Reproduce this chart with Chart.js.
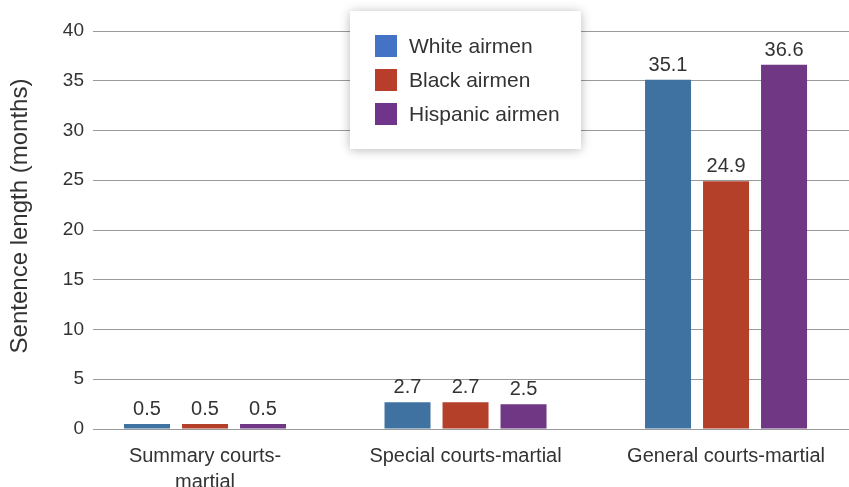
<!DOCTYPE html>
<html>
<head>
<meta charset="utf-8">
<script src="https://cdn.jsdelivr.net/npm/chart.js@4"></script>
<style>
  html, body { margin: 0; padding: 0; background: #fff; overflow: hidden; }
  #wrap { width: 849px; height: 487px; }
</style>
</head>
<body>
<div id="wrap"><canvas id="sentences"></canvas></div>
<script>
// data
const categories = [['Summary courts-', 'martial'], 'Special courts-martial', 'General courts-martial'];
const seriesNames = ['White airmen', 'Black airmen', 'Hispanic airmen'];
const whiteValues = [0.5, 2.7, 35.1];
const blackValues = [0.5, 2.7, 24.9];
const hispanicValues = [0.5, 2.5, 36.6];
const yMax = 40;
const yStep = 5;
const yTitle = 'Sentence length (months)';

const barColors = ['#3F72A1', '#B5402A', '#6F3784'];
const legendColors = ['#4472C4', '#B83D2A', '#70358A'];
const fontFamily = '"Liberation Sans", Arial, Helvetica, sans-serif';
const textColor = '#333333';

function toPoints(values) {
    return values.map(function(v, i) { return { x: i, y: v }; });
}

// value labels above each bar
const valueLabels = {
    id: 'valueLabels',
    afterDatasetsDraw: function(chart) {
        const ctx = chart.ctx;
        ctx.save();
        ctx.font = '20px ' + fontFamily;
        ctx.fillStyle = textColor;
        ctx.textAlign = 'center';
        ctx.textBaseline = 'alphabetic';
        chart.data.datasets.forEach(function(ds, di) {
            chart.getDatasetMeta(di).data.forEach(function(bar, i) {
                ctx.fillText(ds.data[i].y.toFixed(1), bar.x, bar.y - 9);
            });
        });
        ctx.restore();
    }
};

// y axis title, sits a bit above the middle of the plot like the original
const sideTitle = {
    id: 'sideTitle',
    afterDraw: function(chart) {
        const ctx = chart.ctx;
        ctx.save();
        ctx.translate(20, 216);
        ctx.rotate(-Math.PI / 2);
        ctx.font = '24px ' + fontFamily;
        ctx.fillStyle = textColor;
        ctx.textAlign = 'center';
        ctx.textBaseline = 'middle';
        ctx.fillText(yTitle, 0, 0);
        ctx.restore();
    }
};

// floating legend box with a soft shadow
const boxLegend = {
    id: 'boxLegend',
    afterDraw: function(chart) {
        const ctx = chart.ctx;
        const x = 350, y = 11, w = 231, h = 138;
        ctx.save();
        ctx.shadowColor = 'rgba(0,0,0,0.28)';
        ctx.shadowBlur = 10;
        ctx.shadowOffsetY = 1;
        ctx.fillStyle = '#fff';
        ctx.fillRect(x, y, w, h);
        ctx.restore();

        ctx.save();
        ctx.font = '21px ' + fontFamily;
        ctx.textBaseline = 'middle';
        chart.data.datasets.forEach(function(ds, i) {
            const cy = 46 + i * 34;
            ctx.fillStyle = legendColors[i];
            ctx.fillRect(375, cy - 11, 22, 22);
            ctx.fillStyle = textColor;
            ctx.fillText(ds.label, 409, cy + 1);
        });
        ctx.restore();
    }
};

const ctx = document.getElementById('sentences').getContext('2d');

const chart = new Chart(ctx, {
    type: 'bar',
    data: {
        datasets: [
            { label: seriesNames[0], data: toPoints(whiteValues), backgroundColor: barColors[0] },
            { label: seriesNames[1], data: toPoints(blackValues), backgroundColor: barColors[1] },
            { label: seriesNames[2], data: toPoints(hispanicValues), backgroundColor: barColors[2] }
        ]
    },
    options: {
        responsive: true,
        maintainAspectRatio: false,
        animation: false,
        categoryPercentage: 0.668,
        barPercentage: 0.793,
        layout: { padding: { top: 31, right: 0, bottom: 0, left: 0 } },
        plugins: {
            legend: { display: false },
            tooltip: { enabled: false }
        },
        scales: {
            x: {
                type: 'linear',
                offset: false,
                min: -0.43,
                max: 2.472,
                grid: { display: false, offset: false },
                border: { display: false },
                afterBuildTicks: function(scale) {
                    scale.ticks = categories.map(function(c, i) { return { value: i }; });
                },
                afterFit: function(scale) { scale.height = 58; },
                ticks: {
                    autoSkip: false,
                    maxRotation: 0,
                    padding: 6,
                    color: textColor,
                    font: { family: fontFamily, size: 20, lineHeight: 1.3 },
                    callback: function(value) { return categories[value]; }
                }
            },
            y: {
                min: 0,
                max: yMax,
                afterFit: function(scale) { scale.width = 93; },
                grid: { color: '#9a9a9a', lineWidth: 1, drawTicks: false },
                border: { display: false },
                ticks: {
                    stepSize: yStep,
                    padding: 9,
                    color: textColor,
                    font: { family: fontFamily, size: 19 }
                },
                title: { display: false }
            }
        }
    },
    plugins: [valueLabels, sideTitle, boxLegend]
});
</script>
</body>
</html>
